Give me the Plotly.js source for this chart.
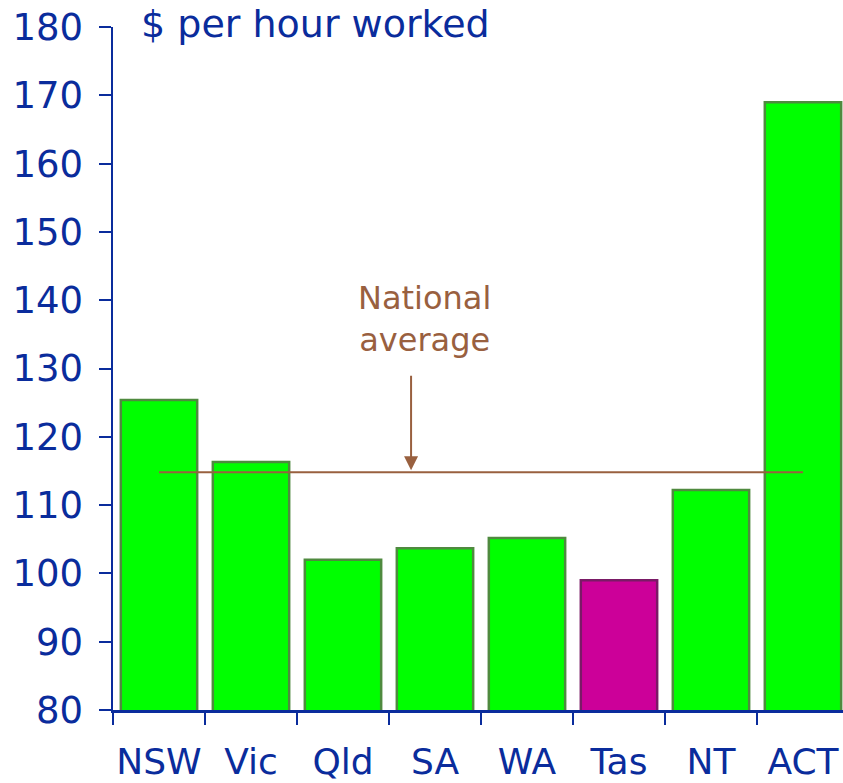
<!DOCTYPE html>
<html><head><meta charset="utf-8">
<script src="https://cdn.plot.ly/plotly-3.0.1.min.js"></script>
<style>html,body{margin:0;padding:0;background:#fff}#chart{width:843px;height:783px}</style>
</head><body><div id="chart"></div>
<script>
const states = ['NSW','Vic','Qld','SA','WA','Tas','NT','ACT'];
const values = [125.4, 116.3, 102.0, 103.7, 105.2, 99.0, 112.2, 169.0];
const nationalAverage = 114.8;
const highlight = 'Tas';
const yTicks = [80,90,100,110,120,130,140,150,160,170,180];

const blue = '#0a2c9c';
const brown = '#99603f';
const fills = states.map(s => s === highlight ? '#cc0099' : '#00ff00');
const edges = states.map(s => s === highlight ? '#7a1a66' : '#4f8a3f');

const data = [
  {type:'bar', x:states, y:values, width:0.83,
   marker:{color:fills, line:{color:edges, width:2.5}}, hoverinfo:'x+y'},
  {type:'scatter', mode:'lines', x:[states[0], states[states.length-1]],
   y:[nationalAverage, nationalAverage], line:{color:brown, width:2}, hoverinfo:'skip'}
];

const layout = {
  width:843, height:783,
  margin:{l:113, r:0, t:27, b:73},
  paper_bgcolor:'#fff', plot_bgcolor:'#fff',
  showlegend:false,
  font:{family:'DejaVu Sans, Verdana, sans-serif', color:blue},
  xaxis:{type:'category', range:[-0.5, 7.435], tickson:'boundaries', tickangle:0,
    ticks:'outside', ticklen:12, tickwidth:2, tickcolor:blue,
    showline:true, linecolor:blue, linewidth:2.5, showgrid:false, zeroline:false,
    tickfont:{size:36, color:blue}, ticklabelstandoff:18},
  yaxis:{range:[80,180], tickvals:yTicks, ticks:'outside', ticklen:12, tickwidth:2, tickcolor:blue,
    showline:true, linecolor:blue, linewidth:2.5, showgrid:false, zeroline:false,
    tickfont:{size:37, color:blue}, ticklabelstandoff:8},
  annotations:[
    {xref:'paper', yref:'paper', x:0.035, y:1.005, xanchor:'left', yanchor:'middle',
     text:'$ per hour worked', showarrow:false, font:{size:38, color:blue}},
    {x:2.89, y:137.3, xanchor:'center', yanchor:'middle', text:'National<br>average',
     showarrow:false, font:{size:32, color:brown}},
    {x:2.74, y:nationalAverage, ax:0, ay:-98, text:'', showarrow:true,
     arrowhead:2, arrowsize:1.4, arrowwidth:2, arrowcolor:brown, standoff:2}
  ]
};
Plotly.newPlot('chart', data, layout, {displayModeBar:false, staticPlot:true});
</script></body></html>
